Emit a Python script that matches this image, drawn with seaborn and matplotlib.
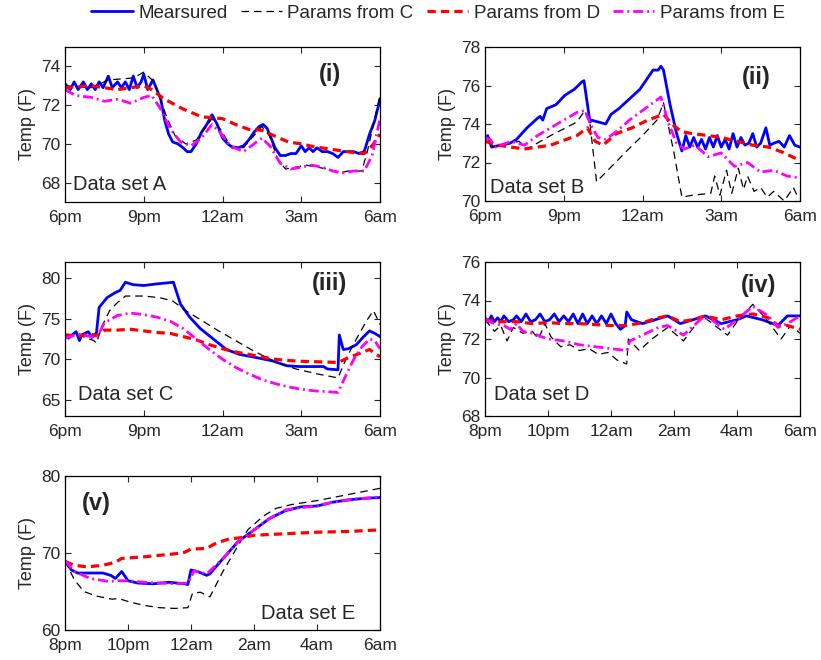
import numpy as np
import matplotlib
matplotlib.use("Agg")
import matplotlib.pyplot as plt
import seaborn as sns

# hours after start (6pm for A-C, 8pm for D-E)
a_meas_t = [0.0, 0.2, 0.35, 0.5, 0.7, 0.85, 1.0, 1.15, 1.3, 1.45, 1.65, 1.8, 2.0, 2.15, 2.3, 2.45, 2.6, 2.75,
            2.9, 3.0, 3.15, 3.35, 3.5, 3.65, 3.8, 3.95, 4.1, 4.3, 4.5, 4.65, 4.8, 5.0, 5.2, 5.4, 5.6, 5.8, 6.0,
            6.2, 6.4, 6.6, 6.8, 7.0, 7.2, 7.4, 7.55, 7.7, 7.85, 8.0, 8.2, 8.4, 8.6, 8.8, 9.0, 9.15, 9.3, 9.45,
            9.6, 9.8, 10.0, 10.2, 10.4, 10.6, 10.8, 11.0, 11.2, 11.4, 11.6, 11.8, 12.0]
a_meas_v = [73.1, 72.8, 73.2, 72.8, 73.2, 72.8, 73.1, 72.8, 73.2, 72.9, 73.5, 72.9, 73.2, 72.9, 73.2, 72.8, 73.5, 72.9,
            73.2, 73.6, 72.8, 73.3, 72.8, 72.3, 71.2, 70.5, 70.1, 70.0, 69.8, 69.6, 69.6, 70.0, 70.6, 71.0, 71.5, 71.0, 70.3,
            70.0, 69.8, 69.8, 69.9, 70.2, 70.6, 70.9, 71.0, 70.8, 70.3, 69.8, 69.4, 69.4, 69.5, 69.5, 69.9, 69.6, 69.8, 69.6,
            69.8, 69.6, 69.6, 69.5, 69.3, 69.6, 69.6, 69.6, 69.5, 69.6, 70.5, 71.2, 72.3]
a_c_t = [0, 1, 1.65, 2.6, 3.0, 3.4, 3.6, 3.9, 4.2, 4.6, 5.0, 5.6, 5.9, 6.3, 6.8, 7.5, 7.8, 8.1, 8.4, 8.8, 9.2,
         9.6, 10.0, 10.4, 10.8, 11.3, 11.5, 11.8, 12.0]
a_c_v = [73.0, 72.9, 73.3, 73.4, 73.7, 73.2, 72.4, 71.3, 70.4, 70.0, 70.2, 71.3, 70.8, 69.9, 69.8, 70.9, 70.4, 69.2,
         68.7, 68.8, 68.9, 68.8, 68.7, 68.5, 68.6, 68.6, 69.5, 71.3, 72.5]
a_d_t = [0, 1, 2, 3, 3.3, 3.8, 4.5, 5.2, 5.6, 6, 6.5, 7, 7.5, 8, 8.5, 9.0, 9.5, 10, 10.5, 11.0, 11.4, 11.7, 12]
a_d_v = [72.9, 73.0, 72.8, 73.0, 72.8, 72.3, 71.8, 71.4, 71.35, 71.3, 71.0, 70.75, 70.7, 70.4, 70.1, 70.0, 69.85,
         69.75, 69.65, 69.55, 69.5, 69.9, 70.5]
a_e_t = [0, 0.4, 1, 1.5, 2, 2.5, 3.0, 3.3, 3.6, 4.0, 4.4, 4.8, 5.2, 5.6, 5.9, 6.3, 6.8, 7.2, 7.5, 7.8, 8.2, 8.6,
         9.0, 9.4, 9.8, 10.2, 10.6, 11.0, 11.4, 11.7, 12.0]
a_e_v = [72.8, 72.5, 72.4, 72.2, 72.3, 72.1, 72.4, 72.5, 71.9, 70.8, 70.1, 69.9, 70.3, 71.0, 70.6, 69.9, 69.6, 70.0,
         70.3, 69.9, 69.0, 68.7, 68.8, 68.9, 68.8, 68.6, 68.5, 68.6, 68.6, 69.4, 71.3]

b_meas_t = [0, 0.1, 0.25, 0.6, 0.95, 1.2, 1.6, 2.0, 2.1, 2.2, 2.35, 2.7, 3.05, 3.4, 3.7, 3.77, 4.0, 4.05, 4.6, 4.8,
            5.1, 5.5, 5.9, 6.15, 6.4, 6.6, 6.7, 6.8, 7.05, 7.3, 7.5, 7.65, 7.8, 7.95, 8.1, 8.25, 8.4, 8.55, 8.7,
            8.85, 9.0, 9.15, 9.3, 9.45, 9.6, 9.75, 9.9, 10.05, 10.2, 10.35, 10.5, 10.7, 10.85, 11.0, 11.2, 11.4,
            11.6, 11.8, 12.0]
b_meas_v = [73.2, 73.4, 72.8, 72.9, 73.0, 73.2, 73.8, 74.3, 74.4, 74.2, 74.8, 75.0, 75.5, 75.8, 76.2, 76.25, 74.1,
            74.2, 74.0, 74.5, 74.8, 75.3, 75.8, 76.3, 76.8, 76.8, 77.0, 76.8, 75.0, 73.5, 72.6, 73.4, 72.8, 73.3,
            72.8, 73.2, 72.7, 73.3, 72.8, 73.4, 72.8, 73.2, 72.7, 73.5, 72.8, 73.3, 72.9, 73.0, 73.5, 72.8, 73.0,
            73.8, 72.9, 73.0, 73.1, 72.8, 73.4, 72.9, 72.8]
b_c_t = [0, 0.15, 0.3, 1.3, 1.6, 2.5, 3.5, 3.8, 4.0, 4.25, 5.4, 6.0, 6.55, 6.8, 7.2, 7.5, 7.9, 8.6, 8.75, 8.95,
         9.2, 9.4, 9.65, 9.85, 10.0, 10.25, 10.5, 10.75, 11.0, 11.4, 11.75, 11.95]
b_c_v = [73.3, 73.3, 72.8, 73.1, 72.7, 73.4, 74.1, 74.7, 74.0, 71.0, 72.6, 73.4, 74.2, 75.1, 72.5, 70.2, 70.3,
         70.4, 71.3, 70.3, 71.6, 70.4, 71.7, 70.6, 71.3, 70.5, 70.7, 70.2, 70.5, 70.0, 70.7, 70.1]
b_d_t = [0, 0.5, 1.5, 2.5, 3.5, 3.9, 4.2, 4.5, 5.0, 5.6, 6.2, 6.8, 7.2, 7.5, 7.9, 8.5, 9.0, 9.6, 10.2, 10.8,
         11.4, 12.0]
b_d_v = [73.1, 72.9, 72.7, 72.9, 73.4, 73.8, 73.1, 72.9, 73.5, 73.8, 74.2, 74.5, 73.9, 73.6, 73.5, 73.4, 73.3,
         73.1, 72.9, 72.8, 72.5, 72.1]
b_e_t = [0, 0.2, 0.4, 1.0, 1.5, 2.0, 2.5, 3.0, 3.5, 3.8, 4.05, 4.3, 4.6, 5.0, 5.5, 6.0, 6.5, 6.7, 7.0, 7.3, 7.6,
         8.0, 8.5, 9.0, 9.5, 10.0, 10.5, 11.0, 11.5, 12.0]
b_e_v = [73.3, 73.2, 72.8, 73.1, 72.9, 73.4, 73.8, 74.2, 74.6, 74.7, 73.9, 73.3, 73.2, 73.6, 74.2, 74.7, 75.2,
         75.4, 74.0, 73.0, 72.7, 72.9, 72.3, 72.5, 71.8, 72.0, 71.5, 71.6, 71.3, 71.2]

c_meas_t = [0, 0.13, 0.42, 0.55, 0.63, 0.89, 1.02, 1.14, 1.2, 1.3, 1.6, 1.9, 2.1, 2.3, 2.6, 3.0, 3.5, 4.13, 4.4,
            4.75, 5.15, 5.65, 6.15, 6.65, 7.3, 7.9, 8.45, 8.95, 9.85, 10.0, 10.4, 10.45, 10.6, 10.8, 11.1, 11.35,
            11.6, 11.8, 12.0]
c_meas_v = [73.0, 72.6, 73.4, 72.3, 73.0, 73.4, 72.7, 73.0, 73.3, 76.4, 77.6, 78.2, 78.5, 79.5, 79.2, 79.1, 79.3,
            79.5, 76.8, 75.2, 73.8, 72.5, 71.2, 70.6, 70.2, 69.8, 69.2, 69.1, 69.1, 68.8, 68.7, 73.0, 71.2, 71.3,
            71.8, 72.7, 73.5, 73.2, 72.8]
c_c_t = [0, 0.5, 1.1, 1.2, 1.4, 1.7, 2.0, 2.3, 3.0, 3.6, 4.1, 4.6, 5.2, 5.8, 6.5, 7.2, 8.0, 8.8, 9.6, 10.4,
         10.7, 11.1, 11.5, 11.75, 12.0]
c_c_v = [72.8, 73.0, 72.3, 72.0, 74.0, 76.0, 77.0, 77.8, 77.8, 77.6, 77.2, 76.0, 74.8, 73.6, 72.3, 71.0, 69.7,
         68.8, 68.2, 67.7, 70.0, 72.5, 74.8, 76.0, 74.3]
c_d_t = [0, 0.5, 1.0, 1.2, 1.5, 2.0, 2.5, 3.0, 3.5, 4.0, 4.5, 5.0, 5.5, 6.0, 6.5, 7.0, 7.5, 8.0, 8.5, 9.0, 9.5,
         10.0, 10.4, 10.8, 11.2, 11.6, 12.0]
c_d_v = [73.0, 72.9, 73.1, 72.9, 73.6, 73.6, 73.7, 73.5, 73.3, 73.2, 72.8, 72.4, 71.8, 71.3, 70.9, 70.6, 70.3,
         70.0, 69.85, 69.75, 69.7, 69.65, 69.6, 70.2, 70.7, 71.2, 70.3]
c_e_t = [0, 0.5, 1.0, 1.2, 1.5, 2.0, 2.5, 3.0, 3.5, 4.0, 4.5, 5.0, 5.5, 6.0, 6.5, 7.0, 7.5, 8.0, 8.5, 9.0, 9.5,
         10.0, 10.4, 10.7, 11.0, 11.3, 11.6, 11.8, 12.0]
c_e_v = [72.6, 73.1, 72.8, 72.6, 74.5, 75.4, 75.7, 75.5, 75.2, 74.7, 73.8, 72.5, 71.2, 70.0, 69.0, 68.2, 67.5,
         67.0, 66.6, 66.3, 66.1, 66.0, 65.9, 68.0, 70.0, 71.5, 72.5, 72.3, 71.3]

d_meas_t = [0, 0.1, 0.2, 0.3, 0.4, 0.5, 0.6, 0.75, 0.9, 1.0, 1.15, 1.3, 1.45, 1.6, 1.75, 1.9, 2.05, 2.2, 2.35,
            2.5, 2.65, 2.8, 2.95, 3.1, 3.25, 3.4, 3.55, 3.7, 3.85, 4.0, 4.15, 4.3, 4.45, 4.5, 4.65, 5.0, 5.4,
            5.8, 6.2, 6.6, 7.0, 7.5, 8.0, 8.3, 8.8, 9.3, 9.6, 10.0]
d_meas_v = [73.1, 72.9, 73.2, 72.9, 73.1, 72.9, 73.2, 72.9, 73.0, 73.2, 72.9, 73.3, 72.9, 73.0, 73.3, 72.9, 73.0,
            73.3, 72.9, 73.2, 72.9, 73.3, 72.8, 73.3, 72.8, 73.2, 72.8, 73.2, 72.8, 73.3, 72.8, 72.5, 72.7, 73.4,
            73.0, 72.8, 73.0, 73.2, 72.8, 73.0, 73.2, 72.8, 73.0, 73.2, 73.0, 72.7, 73.2, 73.2]
d_c_t = [0, 0.3, 0.5, 0.7, 0.9, 1.2, 1.5, 1.7, 1.9, 2.1, 2.4, 2.7, 3.0, 3.3, 3.6, 3.9, 4.2, 4.5, 4.55, 4.9, 5.3,
         5.8, 6.3, 6.9, 7.7, 8.0, 8.5, 8.9, 9.4, 9.7, 10.0]
d_c_v = [73.0, 72.4, 72.7, 71.9, 72.6, 72.3, 72.4, 72.0, 72.8, 72.1, 71.6, 71.7, 71.4, 71.5, 71.2, 71.3, 70.9,
         70.7, 72.0, 71.4, 72.0, 72.6, 71.9, 73.2, 72.2, 72.9, 73.8, 73.1, 72.0, 72.7, 72.3]
d_d_t = [0, 0.5, 1, 1.5, 2, 2.5, 3, 3.5, 4.0, 4.5, 5.0, 5.5, 5.8, 6.2, 6.6, 7.0, 7.5, 8.0, 8.5, 9.0, 9.3, 9.6, 10]
d_d_v = [73.0, 72.9, 72.9, 72.8, 72.85, 72.8, 72.8, 72.75, 72.7, 72.7, 72.85, 73.1, 73.2, 72.9, 73.0, 73.2, 73.0,
         73.2, 73.3, 73.1, 72.7, 72.7, 72.5]
d_e_t = [0, 0.3, 0.6, 0.8, 1.0, 1.2, 1.5, 2.0, 2.5, 3.0, 3.5, 4.0, 4.5, 4.6, 5.0, 5.5, 5.8, 6.3, 6.9, 7.2, 7.6,
         8.0, 8.5, 9.0, 9.3, 9.6, 10]
d_e_v = [73.0, 72.8, 72.7, 72.5, 72.8, 72.4, 72.3, 72.0, 71.9, 71.7, 71.6, 71.5, 71.4, 71.9, 72.2, 72.6, 72.7,
         72.2, 73.1, 73.0, 72.5, 73.0, 73.7, 73.2, 72.6, 72.8, 73.2]

e_meas_t = [0, 0.2, 0.4, 0.8, 1.2, 1.45, 1.6, 1.8, 2.0, 2.3, 2.8, 3.3, 3.8, 3.9, 4.0, 4.2, 4.5, 4.6, 5.0, 5.5,
            6.0, 6.5, 7.0, 7.5, 8.0, 8.5, 9.0, 9.5, 10.0]
e_meas_v = [69.0, 67.8, 67.4, 67.4, 67.4, 67.1, 66.7, 67.6, 66.4, 66.1, 66.0, 66.2, 66.0, 65.9, 67.8, 67.6, 67.1,
            67.3, 69.2, 71.5, 73.0, 74.5, 75.5, 76.0, 76.1, 76.6, 76.9, 77.1, 77.2]
e_c_t = [0, 0.3, 0.6, 1.0, 1.5, 1.7, 2.0, 2.5, 3.0, 3.5, 3.9, 4.05, 4.3, 4.6, 5.0, 5.5, 5.8, 6.3, 6.7, 7.2, 8.0,
         9.0, 10]
e_c_v = [69.0, 66.5, 65.0, 64.4, 64.0, 64.1, 63.7, 63.2, 62.9, 62.8, 62.9, 64.8, 64.9, 64.3, 67.5, 71.0, 73.0,
         74.8, 75.8, 76.3, 76.8, 77.6, 78.4]
e_d_t = [0, 0.3, 0.7, 1.2, 1.6, 1.8, 2.5, 3.0, 3.5, 3.8, 4.0, 4.5, 4.8, 5.2, 5.6, 6.0, 6.5, 7.0, 8.0, 9.0, 10.0]
e_d_v = [68.9, 68.4, 68.2, 68.4, 68.8, 69.3, 69.5, 69.7, 69.9, 70.1, 70.5, 70.6, 71.3, 71.8, 72.0, 72.3, 72.4,
         72.5, 72.7, 72.8, 73.0]
e_e_t = [0, 0.3, 0.8, 1.4, 1.7, 2.0, 2.5, 3.0, 3.5, 3.9, 4.1, 4.5, 5.0, 5.5, 6.0, 6.5, 7.0, 7.5, 8.0, 8.5, 9.0,
         10.0]
e_e_v = [69.0, 67.6, 66.7, 66.3, 66.4, 66.4, 66.2, 66.1, 66.0, 66.1, 67.7, 67.3, 69.2, 71.5, 73.0, 74.5, 75.6,
         75.9, 76.1, 76.6, 76.9, 77.3]

labels_6pm = ["6pm", "9pm", "12am", "3am", "6am"]
labels_8pm = ["8pm", "10pm", "12am", "2am", "4am", "6am"]
series_names = ["Mearsured", "Params from C", "Params from D", "Params from E"]

sns.set_style("ticks", {"xtick.direction": "in", "ytick.direction": "in",
                        "axes.edgecolor": "black"})
plt.rcParams["font.family"] = ["Liberation Sans", "DejaVu Sans"]

styles = [
    dict(color="#0000ff", linewidth=2.0, linestyle="-"),
    dict(color="black", linewidth=0.9, linestyle=(0, (6, 4))),
    dict(color="#ff0000", linewidth=2.3, linestyle=(0, (2.6, 1.6))),
    dict(color="#ff00ff", linewidth=2.0, linestyle=(0, (3.6, 1.4, 0.7, 1.4))),
]

fig = plt.figure(figsize=(8.21, 6.6), dpi=100)
W, H = 821, 660


def make_ax(x0, y_top, y_bot):
    return fig.add_axes([x0 / W, 1 - y_bot / H, 315 / W, (y_bot - y_top) / H])


panels = [
    (make_ax(65, 47, 202), [(a_meas_t, a_meas_v), (a_c_t, a_c_v), (a_d_t, a_d_v), (a_e_t, a_e_v)],
     (67, 75), [68, 70, 72, 74], 12, labels_6pm, "(i)", (0.84, 0.82), "Data set A", (0.025, 0.11), "left"),
    (make_ax(485, 47, 201), [(b_meas_t, b_meas_v), (b_c_t, b_c_v), (b_d_t, b_d_v), (b_e_t, b_e_v)],
     (70, 78), [70, 72, 74, 76, 78], 12, labels_6pm, "(ii)", (0.86, 0.80), "Data set B", (0.016, 0.085), "left"),
    (make_ax(65, 262, 416), [(c_meas_t, c_meas_v), (c_c_t, c_c_v), (c_d_t, c_d_v), (c_e_t, c_e_v)],
     (63, 82), [65, 70, 75, 80], 12, labels_6pm, "(iii)", (0.84, 0.86), "Data set C", (0.04, 0.14), "left"),
    (make_ax(485, 262, 416), [(d_meas_t, d_meas_v), (d_c_t, d_c_v), (d_d_t, d_d_v), (d_e_t, d_e_v)],
     (68, 76), [68, 70, 72, 74, 76], 10, labels_8pm, "(iv)", (0.87, 0.85), "Data set D", (0.03, 0.14), "left"),
    (make_ax(65, 476, 630), [(e_meas_t, e_meas_v), (e_c_t, e_c_v), (e_d_t, e_d_v), (e_e_t, e_e_v)],
     (60, 80), [60, 70, 80], 10, labels_8pm, "(v)", (0.10, 0.82), "Data set E", (0.92, 0.11), "right"),
]

for ax, data, ylim, yticks, span, xlabels, tag, tagpos, name, namepos, ha in panels:
    for (t, v), st, nm in zip(data, styles, series_names):
        sns.lineplot(x=t, y=v, ax=ax, sort=False, label=nm, **st)
    ax.set_xlim(0, span)
    ax.set_ylim(*ylim)
    ax.set_xticks(np.arange(0, span + 1, span // (len(xlabels) - 1)))
    ax.set_xticklabels(xlabels)
    ax.set_yticks(yticks)
    ax.set_ylabel("Temp (F)", fontsize=13, labelpad=4)
    ax.set_xlabel("")
    ax.tick_params(labelsize=12.5, length=4, width=0.8, top=True, right=True)
    ax.tick_params(axis="x", pad=6)
    ax.tick_params(axis="y", pad=3)
    for sp in ax.spines.values():
        sp.set_linewidth(0.9)
        sp.set_color("black")
    ax.text(tagpos[0], tagpos[1], tag, transform=ax.transAxes, fontsize=17,
            fontweight="bold", ha="center", va="center")
    ax.text(namepos[0], namepos[1], name, transform=ax.transAxes, fontsize=14.5,
            ha=ha, va="center")
    handles, lbls = ax.get_legend_handles_labels()
    ax.get_legend().remove()

fig.legend(handles, lbls, loc="center", bbox_to_anchor=(438 / W, 1 - 13 / H), ncol=4,
           frameon=False, fontsize=13.5, handlelength=2.2, handletextpad=0.3,
           columnspacing=0.7, borderaxespad=0)

fig.savefig("out.png", dpi=100)
